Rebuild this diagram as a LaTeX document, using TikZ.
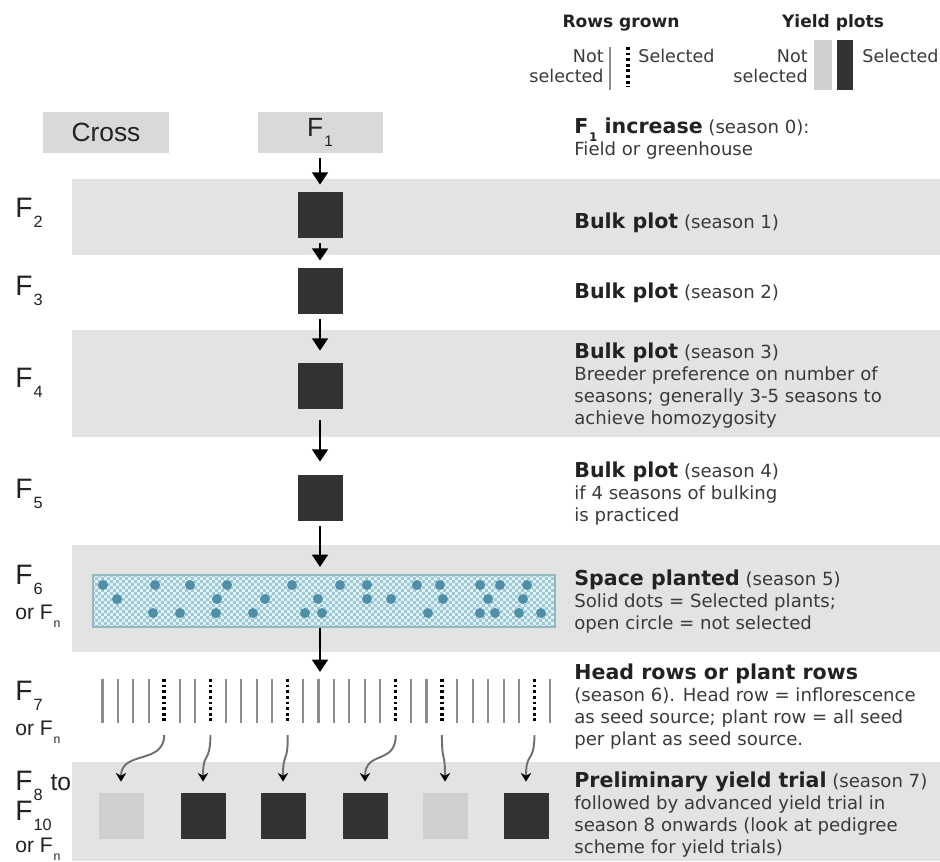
\documentclass[tikz,border=0pt]{standalone}
\usepackage{fontspec}
\setmainfont{DejaVu Sans}
\newfontfamily\arialfont{Liberation Sans}
\usetikzlibrary{positioning}
\usetikzlibrary{arrows.meta}
\usetikzlibrary{patterns}

\definecolor{bandgray}{HTML}{E3E3E3}
\definecolor{taggray}{HTML}{D9D9D9}
\definecolor{plotdark}{HTML}{333333}
\definecolor{plotlight}{HTML}{CFCFCF}
\definecolor{rowgray}{HTML}{8C8C8C}
\definecolor{linkgray}{HTML}{707070}
\definecolor{spaceline}{HTML}{93B7C3}
\definecolor{spacefill}{HTML}{DDF6FB}
\definecolor{spacecheck}{HTML}{A3C6D0}
\definecolor{seedblue}{HTML}{4F8FA7}
\definecolor{textdark}{HTML}{222222}
\definecolor{notegray}{HTML}{3A3A3A}

% small checkerboard for the space planted plot
\pgfdeclarepatternformonly{finecheck}{\pgfpointorigin}{\pgfqpoint{3.4pt}{3.4pt}}{\pgfqpoint{3.4pt}{3.4pt}}{%
  \pgfpathrectangle{\pgfpointorigin}{\pgfqpoint{1.7pt}{1.7pt}}%
  \pgfpathrectangle{\pgfqpoint{1.7pt}{1.7pt}}{\pgfqpoint{1.7pt}{1.7pt}}%
  \pgfusepath{fill}}

% generation label, F with a lowered index
\newcommand{\gen}[1]{F\kern0.04em\raisebox{-0.38em}{\scalebox{0.58}{#1}}}

\begin{document}
\begin{tikzpicture}[
  x=0.2mm, y=-0.2mm,
  flow/.style={draw=black, line width=1.2pt, -{Triangle[width=9pt,length=7pt]}, shorten >=1.4mm, shorten <=1mm},
  band/.style={fill=bandgray},
  tag/.style={fill=taggray, minimum width=25mm, minimum height=8.2mm, inner sep=0pt, text=textdark, font=\arialfont\fontsize{15}{15}\selectfont},
  kept/.style={fill=plotdark, minimum width=9mm, minimum height=9.2mm, inner sep=0pt},
  dropped/.style={fill=plotlight, minimum width=9mm, minimum height=9.2mm, inner sep=0pt},
  spacebox/.style={draw=spaceline, line width=1.2pt, preaction={fill=spacefill}, pattern=finecheck, pattern color=spacecheck, minimum width=92.4mm, minimum height=10.4mm, inner sep=0pt},
  seed/.style={fill=seedblue},
  headrow/.style={draw=rowgray, line width=1.2pt},
  pick/.style={draw=black, line width=2pt, dash pattern=on 1.6pt off 1.6pt},
  link/.style={draw=linkgray, line width=1.1pt, -{Stealth[color=black,length=5pt,width=6pt]}, shorten >=2.2mm},
  genlabel/.style={anchor=base west, inner sep=0pt, text=textdark, font=\arialfont\fontsize{16}{16}\selectfont},
  genor/.style={anchor=base west, inner sep=0pt, text=textdark, font=\arialfont\fontsize{12}{12}\selectfont},
  note/.style={anchor=base west, inner sep=0pt, align=left, text=notegray, font=\fontsize{10.3}{12.4}\selectfont},
  legendhead/.style={anchor=base, inner sep=0pt, text=textdark, font=\fontsize{9.7}{11}\selectfont\bfseries},
  legendtext/.style={inner sep=0pt, text=notegray, font=\fontsize{10}{11.4}\selectfont}
]
  \useasboundingbox (0,0) rectangle (940,861);

  % season bands
  \fill[band] (72,179) rectangle (940,255);
  \fill[band] (72,330) rectangle (940,437);
  \fill[band] (72,545) rectangle (940,652);
  \fill[band] (72,762) rectangle (940,861);

  % legend
  \node[legendhead] (lrows) at (621,27) {Rows grown};
  \node[legendhead] (lyield) at (833,27) {Yield plots};
  \node[legendtext, anchor=north east, align=right] (lrn) at (604,49) {Not\\selected};
  \draw[headrow] (610,47) -- (610,90);
  \draw[pick] (628,47) -- (628,87);
  \node[legendtext, anchor=base west] (lrs) at (638,62) {Selected};
  \node[legendtext, anchor=north east, align=right] (lyn) at (808,49) {Not\\selected};
  \fill[plotlight] (814,40) rectangle (832,90);
  \fill[plotdark] (837,40) rectangle (853,90);
  \node[legendtext, anchor=base west] (lys) at (862,62) {Selected};

  % cross and F1
  \node[tag] (cross) at (106,132) {Cross};
  \node[tag] (f1) at (320,132) {\gen{1}};

  % bulk plots
  \node[kept] (p2) at (320,215) {};
  \node[kept] (p3) at (320,291) {};
  \node[kept] (p4) at (320,386) {};
  \node[kept] (p5) at (320,498) {};

  % space planted
  \node[spacebox] (space) at (324,601) {};
  \fill[seed] (103,585) circle (1mm) (155,585) circle (1mm) (190,585) circle (1mm)
    (227,585) circle (1mm) (292,585) circle (1mm) (340,585) circle (1mm)
    (367,585) circle (1mm) (417,585) circle (1mm) (440,585) circle (1mm)
    (480,585) circle (1mm) (500,585) circle (1mm) (527,585) circle (1mm);
  \fill[seed] (117,599) circle (1mm) (217,599) circle (1mm) (265,599) circle (1mm)
    (318,599) circle (1mm) (367,599) circle (1mm) (391,599) circle (1mm)
    (443,599) circle (1mm) (488,599) circle (1mm) (523,599) circle (1mm);
  \fill[seed] (153,613) circle (1mm) (180,613) circle (1mm) (216,613) circle (1mm)
    (253,613) circle (1mm) (305,613) circle (1mm) (322,613) circle (1mm)
    (428,613) circle (1mm) (480,613) circle (1mm) (495,613) circle (1mm)
    (519,613) circle (1mm) (541,613) circle (1mm);

  % head rows
  \coordinate (rows) at (320,679);
  \draw[headrow] (102.5,679) -- (102.5,723) (117.9,679) -- (117.9,723) (133.4,679) -- (133.4,723)
    (148.8,679) -- (148.8,723) (179.7,679) -- (179.7,723) (195.1,679) -- (195.1,723)
    (225.9,679) -- (225.9,723) (241.4,679) -- (241.4,723) (256.8,679) -- (256.8,723)
    (272.2,679) -- (272.2,723) (303.1,679) -- (303.1,723) (318.5,679) -- (318.5,723)
    (333.9,679) -- (333.9,723) (349.4,679) -- (349.4,723) (364.8,679) -- (364.8,723)
    (380.2,679) -- (380.2,723) (411.1,679) -- (411.1,723) (426.5,679) -- (426.5,723)
    (457.4,679) -- (457.4,723) (472.8,679) -- (472.8,723) (488.2,679) -- (488.2,723)
    (503.6,679) -- (503.6,723) (519.1,679) -- (519.1,723) (549.9,679) -- (549.9,723);
  \draw[pick] (164.2,679) -- (164.2,723);
  \draw[pick] (210.5,679) -- (210.5,723);
  \draw[pick] (287.7,679) -- (287.7,723);
  \draw[pick] (395.7,679) -- (395.7,723);
  \draw[pick] (441.9,679) -- (441.9,723);
  \draw[pick] (534.5,679) -- (534.5,723);
  \coordinate (d1) at (164.2,735);
  \coordinate (d2) at (210.5,735);
  \coordinate (d3) at (287.7,735);
  \coordinate (d4) at (395.7,735);
  \coordinate (d5) at (441.9,735);
  \coordinate (d6) at (534.5,735);

  % yield plots
  \node[dropped] (y1) at (121,816) {};
  \node[kept] (y2) at (203,816) {};
  \node[kept] (y3) at (283,816) {};
  \node[kept] (y4) at (365,816) {};
  \node[dropped] (y5) at (445,816) {};
  \node[kept] (y6) at (526,816) {};

  \draw[flow] (f1.south) -- (p2.north);
  \draw[flow] (p2.south) -- (p3.north);
  \draw[flow, shorten >=2.4mm] (p3.south) -- (p4.north);
  \draw[flow, shorten <=2.2mm, shorten >=2.6mm] (p4.south) -- (p5.north);
  \draw[flow] (p5.south) -- (p5 |- space.north);
  \draw[flow, shorten <=0pt] (p5 |- space.south) -- (rows);

  \draw[link] (d1) .. controls (164,765) and (121,750) .. (y1.north);
  \draw[link] (d2) .. controls (210,765) and (203,750) .. (y2.north);
  \draw[link] (d3) .. controls (288,765) and (283,750) .. (y3.north);
  \draw[link] (d4) .. controls (396,765) and (365,750) .. (y4.north);
  \draw[link] (d5) .. controls (442,765) and (445,750) .. (y5.north);
  \draw[link] (d6) .. controls (534,765) and (526,750) .. (y6.north);

  % generations
  \node[genlabel] (g2) at (15,217) {\gen{2}};
  \node[genlabel] (g3) at (15,295) {\gen{3}};
  \node[genlabel] (g4) at (15,387) {\gen{4}};
  \node[genlabel] (g5) at (15,498) {\gen{5}};
  \node[genlabel] (g6) at (15,584) {\gen{6}};
  \node[genor] (g6n) at (15,619) {or \gen{n}};
  \node[genlabel] (g7) at (15,700) {\gen{7}};
  \node[genor] (g7n) at (15,735) {or \gen{n}};
  \node[genlabel] (g8) at (15,790) {\gen{8} {\fontsize{14}{14}\selectfont to}};
  \node[genlabel] (g10) at (15,820) {\gen{10}};
  \node[genor] (g8n) at (15,852) {or \gen{n}};

  % season notes (base is the last line)
  \node[note] (t0) at (574,155) {{\fontsize{11.7}{12.4}\selectfont\bfseries\color{textdark}\gen{1} increase} (season 0):\\Field or greenhouse};
  \node[note] (t1) at (574,228) {{\fontsize{11.7}{12.4}\selectfont\bfseries\color{textdark}Bulk plot} (season 1)};
  \node[note] (t2) at (574,298) {{\fontsize{11.7}{12.4}\selectfont\bfseries\color{textdark}Bulk plot} (season 2)};
  \node[note] (t3) at (574,424) {{\fontsize{11.7}{12.4}\selectfont\bfseries\color{textdark}Bulk plot} (season 3)\\Breeder preference on number of\\seasons; generally 3-5 seasons to\\achieve homozygosity};
  \node[note] (t4) at (574,521) {{\fontsize{11.7}{12.4}\selectfont\bfseries\color{textdark}Bulk plot} (season 4)\\if 4 seasons of bulking\\is practiced};
  \node[note] (t5) at (574,629) {{\fontsize{11.7}{12.4}\selectfont\bfseries\color{textdark}Space planted} (season 5)\\Solid dots = Selected plants;\\open circle = not selected};
  \node[note] (t6) at (574,745) {{\fontsize{11.7}{12.4}\selectfont\bfseries\color{textdark}Head rows or plant rows}\\(season 6). Head row = inflorescence\\as seed source; plant row = all seed\\per plant as seed source.};
  \node[note] (t7) at (574,853) {{\fontsize{11.7}{12.4}\selectfont\bfseries\color{textdark}Preliminary yield trial} (season 7)\\followed by advanced yield trial in\\season 8 onwards (look at pedigree\\scheme for yield trials)};
\end{tikzpicture}
\end{document}
